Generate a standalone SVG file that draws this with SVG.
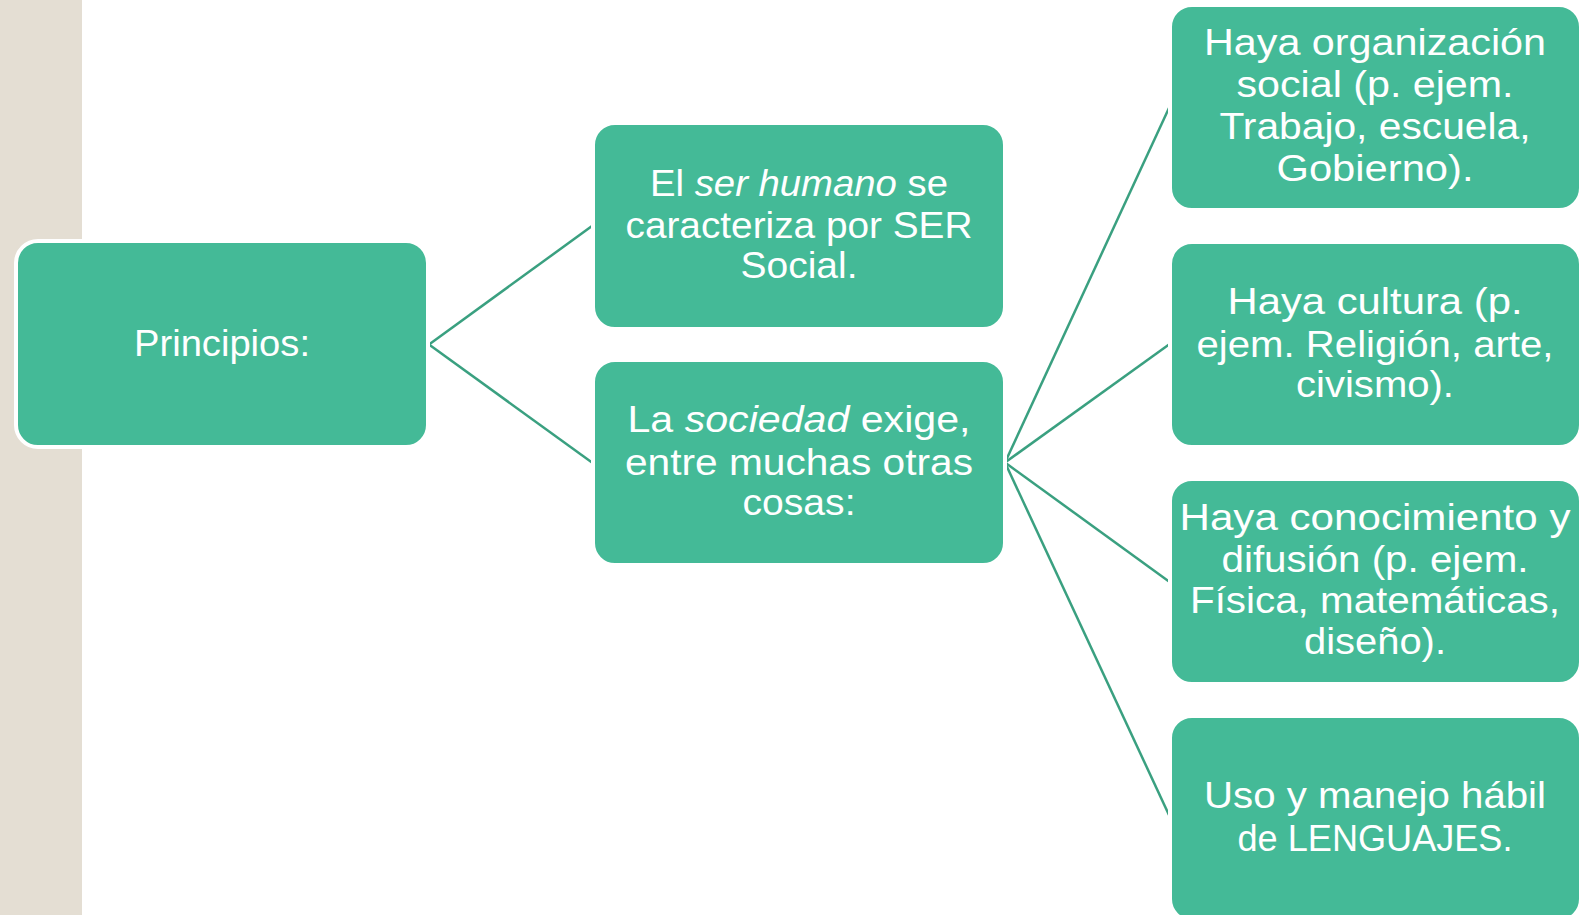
<svg xmlns="http://www.w3.org/2000/svg" width="1593" height="915" viewBox="0 0 1593 915">
<style>
.box{fill:#44BA97;stroke:#FFFFFF;stroke-width:4}
.t{font-family:"Liberation Sans",Arial,sans-serif;font-size:36px;fill:#FFFFFF;text-anchor:middle}
.i{font-style:italic}
.c{fill:none;stroke:#3AA080;stroke-width:2.5}
</style>
<rect x="0" y="0" width="82" height="915" fill="#E4DED3"/>
<g id="connectors">
<line class="c" x1="429" y1="344.5" x2="592" y2="226"/>
<line class="c" x1="429" y1="344.5" x2="592" y2="462.5"/>
<line class="c" x1="1005" y1="462.5" x2="1169" y2="108"/>
<line class="c" x1="1005" y1="462.5" x2="1169" y2="344.5"/>
<line class="c" x1="1005" y1="462.5" x2="1169" y2="581.5"/>
<line class="c" x1="1005" y1="462.5" x2="1169" y2="815"/>
</g>
<g id="principios">
<rect class="box" x="16" y="241" width="412" height="206" rx="22"/>
<text class="t" x="222" y="356" textLength="176" lengthAdjust="spacingAndGlyphs">Principios:</text>
</g>
<g id="ser-humano">
<rect class="box" x="593" y="123" width="412" height="206" rx="22"/>
<text class="t" x="799" y="196" textLength="298" lengthAdjust="spacingAndGlyphs">El <tspan class="i">ser humano</tspan> se</text>
<text class="t" x="799" y="238" textLength="347" lengthAdjust="spacingAndGlyphs">caracteriza por SER</text>
<text class="t" x="799" y="278" textLength="117" lengthAdjust="spacingAndGlyphs">Social.</text>
</g>
<g id="sociedad">
<rect class="box" x="593" y="360" width="412" height="205" rx="22"/>
<text class="t" x="799" y="432" textLength="343" lengthAdjust="spacingAndGlyphs">La <tspan class="i">sociedad</tspan> exige,</text>
<text class="t" x="799" y="475" textLength="348" lengthAdjust="spacingAndGlyphs">entre muchas otras</text>
<text class="t" x="799" y="515" textLength="113" lengthAdjust="spacingAndGlyphs">cosas:</text>
</g>
<g id="organizacion">
<rect class="box" x="1170" y="5" width="411" height="205" rx="22"/>
<text class="t" x="1375" y="55" textLength="342" lengthAdjust="spacingAndGlyphs">Haya organización</text>
<text class="t" x="1375" y="97" textLength="277" lengthAdjust="spacingAndGlyphs">social (p. ejem.</text>
<text class="t" x="1375" y="139" textLength="311" lengthAdjust="spacingAndGlyphs">Trabajo, escuela,</text>
<text class="t" x="1375" y="181" textLength="197" lengthAdjust="spacingAndGlyphs">Gobierno).</text>
</g>
<g id="cultura">
<rect class="box" x="1170" y="242" width="411" height="205" rx="22"/>
<text class="t" x="1375" y="314" textLength="295" lengthAdjust="spacingAndGlyphs">Haya cultura (p.</text>
<text class="t" x="1375" y="357" textLength="357" lengthAdjust="spacingAndGlyphs">ejem. Religión, arte,</text>
<text class="t" x="1375" y="397" textLength="158" lengthAdjust="spacingAndGlyphs">civismo).</text>
</g>
<g id="conocimiento">
<rect class="box" x="1170" y="479" width="411" height="205" rx="22"/>
<text class="t" x="1375" y="530" textLength="391" lengthAdjust="spacingAndGlyphs">Haya conocimiento y</text>
<text class="t" x="1375" y="572" textLength="307" lengthAdjust="spacingAndGlyphs">difusión (p. ejem.</text>
<text class="t" x="1375" y="613" textLength="370" lengthAdjust="spacingAndGlyphs">Física, matemáticas,</text>
<text class="t" x="1375" y="654" textLength="142" lengthAdjust="spacingAndGlyphs">diseño).</text>
</g>
<g id="lenguajes">
<rect class="box" x="1170" y="716" width="411" height="205" rx="22"/>
<text class="t" x="1375" y="808" textLength="342" lengthAdjust="spacingAndGlyphs">Uso y manejo hábil</text>
<text class="t" x="1375" y="851" textLength="275" lengthAdjust="spacingAndGlyphs">de LENGUAJES.</text>
</g>
</svg>
